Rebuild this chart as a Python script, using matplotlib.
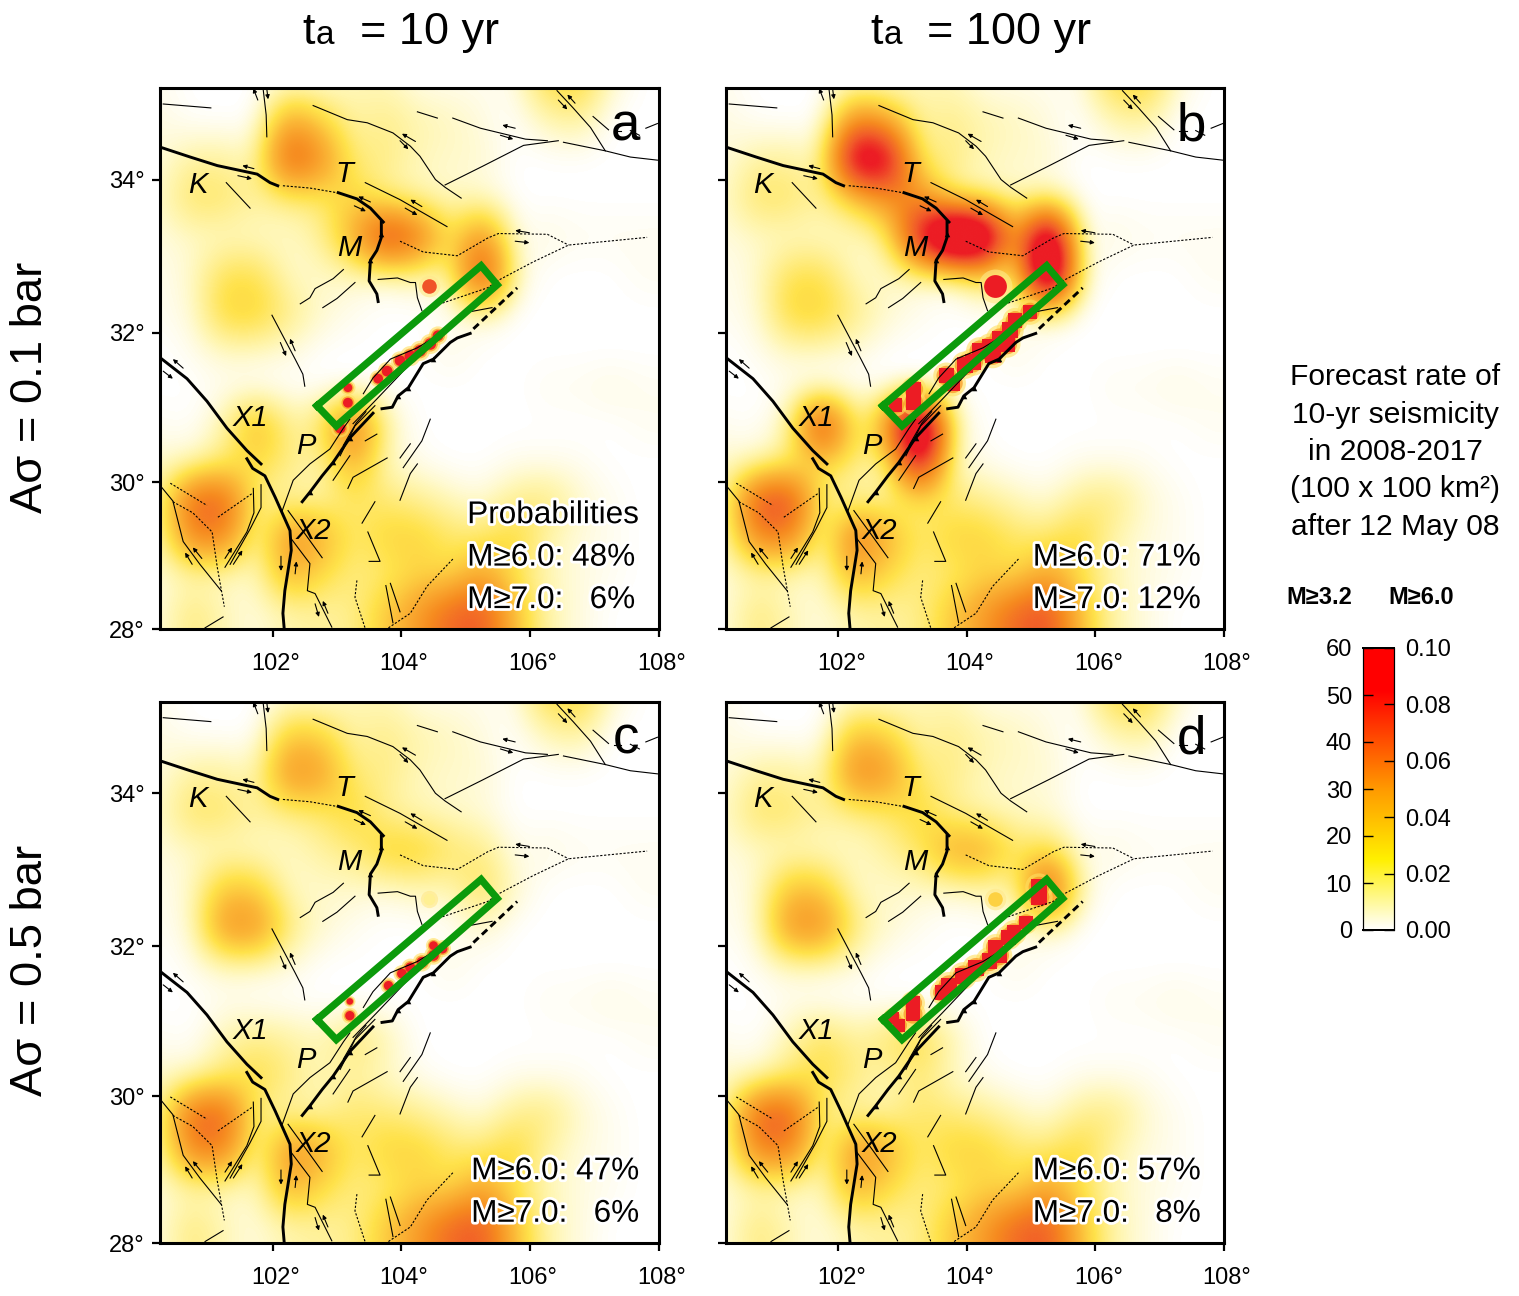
import numpy as np
import matplotlib
matplotlib.use('Agg')
import matplotlib.pyplot as plt
import matplotlib.patheffects as pe
from matplotlib.colors import LinearSegmentedColormap
from matplotlib.transforms import ScaledTranslation

plt.rcParams['font.family'] = ['Liberation Sans', 'DejaVu Sans']

# forecast rate (M>=3.2 per 100x100 km2), 0.5 deg cells
grid_lon = [100.25 + 0.5 * k for k in range(16)]
grid_lat = [35.25 - 0.5 * k for k in range(15)]
rate_a = [
    [1, 0, 0, 0, 1, 1, 4, 4, 1, 1, 1, 1, 13, 15, 3, 0],
    [2, 0, 0, 0, 24, 14, 5, 8, 5, 4, 2, 0, 4, 6, 0, 0],
    [2, 6, 6, 4, 44, 30, 8, 8, 4, 3, 3, 0, 0, 0, 0, 0],
    [3, 11, 10, 6, 7, 9, 15, 6, 4, 3, 2, 0, 0, 0, 0, 0],
    [2, 3, 3, 3, 3, 6, 22, 52, 38, 10, 30, 1, 2, 1, 1, 1],
    [1, 3, 12, 12, 3, 3, 3, 2, 4, 4, 52, 3, 0, 0, 0, 1],
    [1, 2, 15, 15, 8, 3, 1, 0, 0, 0, 3, 0, 0, 0, 0, 0],
    [0, 1, 3, 3, 2, 0, 0, 0, 0, 2, 0, 0, 0, 0, 0, 0],
    [0, 0, 1, 0, 0, 0, 0, 0, 0, 0, 0, 0, 1, 1, 2, 1],
    [1, 0, 5, 22, 6, 10, 38, 5, 0, 0, 0, 0, 0, 0, 0, 1],
    [3, 3, 9, 13, 8, 4, 22, 3, 1, 0, 0, 1, 1, 1, 0, 0],
    [5, 40, 40, 6, 5, 5, 10, 9, 7, 4, 2, 7, 9, 3, 1, 0],
    [4, 32, 32, 3, 30, 22, 9, 15, 15, 10, 9, 15, 5, 2, 1, 0],
    [2, 4, 3, 3, 22, 13, 8, 9, 14, 12, 24, 11, 4, 2, 1, 0],
    [2, 9, 4, 2, 5, 6, 7, 16, 26, 38, 42, 18, 5, 2, 0, 0],
]

# cells that differ from panel a
hot_lon_b = [102.25, 102.75, 102.25, 102.75, 102.25, 102.75, 103.25, 103.25, 103.75, 104.25, 104.75,
             105.25, 105.25, 104.25, 101.75, 102.75, 103.25, 103.25, 100.75, 101.25, 102.25, 105.25]
hot_lat_b = [34.25, 34.25, 34.75, 34.75, 33.75, 33.75, 33.75, 33.25, 33.25, 33.25, 33.25,
             33.25, 32.75, 32.75, 30.75, 30.75, 30.75, 30.25, 29.75, 29.75, 29.25, 28.25]
hot_val_b = [72, 66, 30, 22, 14, 28, 30, 58, 100, 90, 18, 85, 100, 12, 55, 25, 100, 62, 46, 46, 36, 44]

hot_lon_c = [102.25, 102.75, 102.25, 103.25, 103.75, 104.25, 105.25, 105.25, 101.25, 101.25, 101.75, 101.75, 101.75, 103.25, 103.25, 102.75]
hot_lat_c = [34.25, 34.25, 34.75, 33.25, 33.25, 33.25, 33.25, 32.75, 32.25, 32.75, 32.25, 32.75, 30.75, 30.75, 30.25, 30.75]
hot_val_c = [30, 26, 16, 8, 16, 16, 8, 12, 29, 17, 29, 15, 8, 10, 6, 4]

hot_lon_d = [102.25, 102.75, 102.25, 103.25, 103.75, 104.25, 105.25, 105.25, 101.25, 101.25, 101.75, 101.75, 101.75, 103.25, 103.25, 100.75, 101.25]
hot_lat_d = [34.25, 34.25, 34.75, 33.25, 33.25, 33.25, 33.25, 32.75, 32.25, 32.75, 32.25, 32.75, 30.75, 30.75, 30.25, 29.75, 29.75]
hot_val_d = [32, 28, 18, 10, 24, 24, 12, 50, 30, 18, 30, 16, 12, 14, 9, 42, 42]

# single high-rate cells along the rupture
cell_lon_a = [103.17, 103.17, 103.05, 103.64, 103.78, 103.98, 104.14, 104.29, 104.45, 104.57]
cell_lat_a = [31.27, 31.07, 30.73, 31.39, 31.49, 31.63, 31.69, 31.76, 31.85, 31.96]
cell_size_a = [40, 50, 60, 50, 60, 60, 70, 70, 70, 60]
cell_lon_b = [102.89, 103.17, 103.17, 103.68, 103.78, 103.97, 104.09, 104.2, 104.36, 104.4, 104.51, 104.62, 104.67, 104.75, 104.98]
cell_lat_b = [31.04, 31.25, 31.07, 31.43, 31.33, 31.57, 31.61, 31.76, 31.81, 31.71, 31.92, 31.85, 32.03, 32.16, 32.27]
cell_size_b = [90, 110, 110, 120, 120, 130, 130, 130, 130, 130, 130, 130, 130, 110, 110]
cell_lon_c = [103.2, 103.2, 103.8, 104.01, 104.14, 104.32, 104.5, 104.5, 104.64]
cell_lat_c = [31.27, 31.08, 31.48, 31.64, 31.72, 31.79, 31.88, 32.01, 31.97]
cell_size_c = [22, 45, 45, 50, 55, 60, 60, 40, 50]
cell_lon_d = [102.85, 103.16, 103.16, 102.94, 103.72, 103.62, 103.94, 104.14, 104.35, 104.45, 104.5, 104.65, 104.73, 104.92, 105.12, 105.12]
cell_lat_d = [31.05, 31.25, 31.1, 30.95, 31.48, 31.39, 31.61, 31.71, 31.81, 31.99, 31.88, 32.12, 32.18, 32.31, 32.65, 32.78]
cell_size_d = [70, 100, 110, 80, 130, 110, 130, 130, 130, 120, 120, 110, 110, 90, 130, 130]

# small isolated patch north of the rupture, one rate per panel
spot_lon = 104.43
spot_lat = 32.62
spot_rate = [42, 60, 7, 15]
spot_size = [110, 270, 70, 110]

# fault traces, lon / lat
thick_faults = [
    ([100.28, 100.72, 101.14, 101.76, 101.96, 102.08], [34.41, 34.29, 34.18, 34.07, 33.96, 33.92]),
    ([103.02, 103.31, 103.52, 103.72], [33.83, 33.75, 33.63, 33.45]),
    ([103.69, 103.69, 103.62, 103.52, 103.5, 103.62, 103.64], [33.45, 33.25, 33.08, 32.95, 32.68, 32.51, 32.41]),
    ([100.28, 100.67, 100.98, 101.29, 101.6, 101.82], [31.65, 31.39, 31.09, 30.73, 30.43, 30.25]),
    ([101.6, 101.69, 101.88, 102.04, 102.27, 102.29, 102.19, 102.16, 102.18],
     [30.32, 30.19, 30.09, 29.8, 29.35, 29.08, 28.53, 28.22, 28.01]),
    ([102.46, 102.58, 102.77, 102.94, 103.2, 103.56], [29.74, 29.87, 30.09, 30.27, 30.6, 30.93]),
    ([103.7, 103.86, 103.95, 104.11, 104.34, 104.5, 104.76, 104.87, 105.07],
     [30.99, 31.01, 31.16, 31.27, 31.59, 31.65, 31.87, 31.93, 31.99]),
]
thin_faults = [
    ([100.3, 101.04], [34.97, 34.92]),
    ([101.85, 101.9, 101.91], [35.18, 34.83, 34.55]),
    ([102.63, 103.16, 103.47, 103.87, 104.14, 104.29, 104.53, 104.68, 104.93],
     [34.95, 34.77, 34.73, 34.6, 34.43, 34.3, 34.0, 33.9, 33.76]),
    ([101.28, 101.65], [33.96, 33.63]),
    ([103.44, 103.98, 104.71], [33.96, 33.74, 33.39]),
    ([104.68, 105.26, 105.9, 106.44], [33.93, 34.17, 34.44, 34.5]),
    ([104.8, 105.23, 105.93, 106.27], [34.79, 34.66, 34.52, 34.5]),
    ([104.25, 104.56], [34.87, 34.79]),
    ([106.52, 107.17, 107.56, 107.98], [34.48, 34.37, 34.29, 34.25]),
    ([106.42, 106.67, 106.94, 107.17], [35.14, 34.92, 34.67, 34.37]),
    ([106.98, 107.22], [34.81, 34.64]),
    ([107.3, 107.42], [34.62, 34.62]),
    ([107.56, 107.7], [34.63, 34.57]),
    ([107.8, 107.98], [34.66, 34.72]),
    ([103.64, 103.94, 104.14, 104.22, 104.25, 104.32], [32.7, 32.72, 32.66, 32.66, 32.46, 32.29]),
    ([102.43, 102.58, 102.66, 102.94, 103.1], [32.38, 32.46, 32.58, 32.71, 32.83]),
    ([102.78, 103.0, 103.28], [32.33, 32.45, 32.66]),
    ([101.99, 102.35, 102.47, 102.5], [32.23, 31.65, 31.45, 31.29]),
    ([100.28, 100.45, 100.61, 100.87, 101.2], [29.93, 29.75, 29.2, 28.89, 28.53]),
    ([101.7, 101.71, 101.6, 101.26], [29.92, 29.59, 29.33, 28.85]),
    ([101.82, 101.82, 101.65, 101.34], [29.97, 29.66, 29.37, 28.89]),
    ([102.15, 102.32, 102.58, 102.89, 103.1, 103.2], [29.62, 30.03, 30.25, 30.45, 30.73, 30.85]),
    ([103.25, 103.62, 104.03, 104.34, 104.76], [30.79, 31.12, 31.49, 31.76, 32.07]),
    ([103.41, 103.56, 103.83, 104.25, 104.56, 105.03, 105.41], [31.19, 31.4, 31.65, 31.8, 31.96, 32.27, 32.33]),
    ([102.24, 102.54, 102.77], [29.62, 29.26, 28.98]),
    ([102.27, 102.58, 102.54, 102.66, 102.92], [29.26, 28.9, 28.53, 28.49, 28.03]),
    ([100.95, 101.23], [28.02, 28.17]),
    ([103.76, 103.87], [28.6, 28.09]),
    ([103.83, 103.98], [28.63, 28.24]),
    ([103.17, 103.25, 103.78], [29.92, 30.07, 30.33]),
    ([102.94, 103.2], [30.03, 30.36]),
    ([103.39, 103.59], [29.45, 29.74]),
    ([103.48, 103.67, 103.5], [29.33, 28.93, 28.93]),
    ([103.44, 103.62], [30.56, 30.65]),
    ([103.98, 104.14], [30.33, 30.52]),
    ([104.03, 104.32, 104.45], [30.2, 30.56, 30.85]),
    ([103.98, 104.14, 104.25], [29.76, 30.12, 30.25]),
    ([103.1, 103.3, 103.45], [30.5, 30.8, 30.95]),
    ([103.05, 103.28, 103.59], [30.36, 30.76, 31.03]),
]
dotted_faults = [
    ([102.16, 102.58, 103.0], [33.92, 33.89, 33.83]),
    ([100.41, 100.98], [29.99, 29.69]),
    ([100.45, 100.76, 101.06, 101.14, 101.25], [29.74, 29.59, 29.33, 28.85, 28.31]),
    ([101.15, 101.68], [29.53, 29.85]),
    ([104.64, 105.34, 105.51, 106.05, 106.6, 107.09, 107.82], [32.39, 32.59, 32.69, 32.93, 33.15, 33.19, 33.25]),
    ([103.98, 104.34, 104.87, 105.34, 105.51, 106.27, 106.6], [33.2, 33.06, 33.01, 33.24, 33.3, 33.29, 33.15]),
    ([103.31, 103.28, 103.44], [28.67, 28.44, 28.01]),
    ([103.8, 104.14, 104.4, 104.81], [28.02, 28.22, 28.59, 28.97]),
]
dashed_lon = [105.12, 105.8]
dashed_lat = [32.05, 32.59]

# half arrows (start lon, start lat, end lon, end lat)
arrows = [
    (101.71, 34.14, 101.53, 34.18), (101.46, 34.05, 101.68, 34.01),
    (103.52, 33.71, 103.33, 33.78), (103.27, 33.66, 103.45, 33.59),
    (104.22, 34.49, 104.01, 34.59), (103.98, 34.5, 104.11, 34.39),
    (105.77, 34.66, 105.57, 34.7), (105.54, 34.57, 105.74, 34.52),
    (106.7, 34.98, 106.58, 35.09), (106.44, 35.02, 106.58, 34.9),
    (104.32, 33.65, 104.14, 33.74), (104.06, 33.63, 104.25, 33.54),
    (105.99, 33.31, 105.77, 33.34), (105.77, 33.2, 105.99, 33.18),
    (102.12, 31.87, 102.21, 31.69), (102.35, 31.76, 102.27, 31.92),
    (100.61, 31.53, 100.45, 31.65), (100.3, 31.49, 100.45, 31.39),
    (100.75, 28.89, 100.64, 29.05), (100.9, 28.97, 100.76, 29.12),
    (101.26, 28.97, 101.37, 29.12), (101.39, 28.89, 101.53, 29.08),
    (102.13, 29.0, 102.13, 28.8), (102.35, 28.76, 102.37, 28.93),
    (102.66, 28.35, 102.72, 28.17), (102.86, 28.22, 102.78, 28.39),
    (101.77, 35.02, 101.7, 35.17), (101.91, 35.16, 101.93, 35.03),
]
thrust_lon = [102.58, 102.94, 103.2, 103.95, 104.11, 104.5, 103.69, 103.52]
thrust_lat = [29.87, 30.27, 30.6, 31.16, 31.27, 31.65, 33.3, 32.95]

box_lon = [102.69, 105.24, 105.49, 102.99, 102.69]
box_lat = [31.03, 32.88, 32.63, 30.76, 31.03]

place_names = ['K', 'T', 'M', 'X1', 'P', 'X2']
place_lon = [100.83, 103.11, 103.19, 101.65, 102.52, 102.63]
place_lat = [33.93, 34.07, 33.11, 30.87, 30.49, 29.35]

panel_letters = ['a', 'b', 'c', 'd']
prob_texts = [
    ['Probabilities', 'M≥6.0: 48%', 'M≥7.0:   6%'],
    ['M≥6.0: 71%', 'M≥7.0: 12%'],
    ['M≥6.0: 47%', 'M≥7.0:   6%'],
    ['M≥6.0: 57%', 'M≥7.0:   8%'],
]
xticks = [102, 104, 106, 108]
yticks = [28, 30, 32, 34]
scale_left = [0, 10, 20, 30, 40, 50, 60]
scale_right = [0.00, 0.02, 0.04, 0.06, 0.08, 0.10]
side_lines = ['Forecast rate of', '10-yr seismicity', 'in 2008-2017', '(100 x 100 km²)', 'after 12 May 08']

W, H = 1519, 1296
rate_cmap = LinearSegmentedColormap.from_list(
    'rate', [(0, '#ffffff'), (0.07, '#fff7b8'), (0.2, '#ffe24a'), (0.33, '#fbb636'), (0.5, '#f68a1f'),
             (0.68, '#f15a29'), (0.85, '#ec1c24'), (1, '#ec1c24')])
bar_cmap = LinearSegmentedColormap.from_list(
    'bar', [(0, '#ffffff'), (0.25, '#fff000'), (0.5, '#ff9a00'), (0.85, '#ff0000'), (1, '#ff0000')])


def merc(lat):
    lat = np.clip(lat, 1, 80)
    return np.degrees(np.log(np.tan(np.pi / 4 + np.radians(lat) / 2)))


def inv_merc(y):
    return np.degrees(2 * np.arctan(np.exp(np.radians(y))) - np.pi / 2)


def axes_px(x0, y0, x1, y1):
    return fig.add_axes([x0 / W, 1 - y1 / H, (x1 - x0) / W, (y1 - y0) / H])


def panel_field(hot_lon, hot_lat, hot_val):
    field = np.array(rate_a, dtype=float)
    for lo, la, v in zip(hot_lon, hot_lat, hot_val):
        field[grid_lat.index(la), grid_lon.index(lo)] = v
    return field


fig = plt.figure(figsize=(W / 100, H / 100), dpi=100)

boxes = [(160, 88.3, 658.7, 629.3), (726, 88.3, 1224, 629.3), (160, 702, 658.7, 1243), (726, 702, 1224, 1243)]
hots = [([], [], []), (hot_lon_b, hot_lat_b, hot_val_b), (hot_lon_c, hot_lat_c, hot_val_c), (hot_lon_d, hot_lat_d, hot_val_d)]
cells = [(cell_lon_a, cell_lat_a, cell_size_a), (cell_lon_b, cell_lat_b, cell_size_b),
         (cell_lon_c, cell_lat_c, cell_size_c), (cell_lon_d, cell_lat_d, cell_size_d)]
cell_marker = ['o', 's', 'o', 's']

for n in range(4):
    ax = axes_px(*boxes[n])
    ax.set_yscale('function', functions=(merc, inv_merc))
    ax.imshow(panel_field(*hots[n]), cmap=rate_cmap, vmin=0, vmax=60, interpolation='bicubic',
              extent=[100, 108, 28, 35.5], aspect='auto', zorder=1)
    sizes = np.array(cells[n][2])
    ax.scatter(cells[n][0], cells[n][1], s=sizes * 3, c='#ffe060', alpha=0.6, lw=0, zorder=2)
    ax.scatter(cells[n][0], cells[n][1], s=sizes * 1.7, c='#f8941d', alpha=0.7, lw=0, zorder=2)
    ax.scatter(cells[n][0], cells[n][1], s=sizes, c='#ec1c24', marker=cell_marker[n], lw=0, zorder=2)
    ax.scatter([spot_lon], [spot_lat], s=spot_size[n] * 2.2, c='#ffe88a', alpha=0.6, lw=0, zorder=2)
    ax.scatter([spot_lon], [spot_lat], s=spot_size[n], c=[spot_rate[n]], cmap=rate_cmap, vmin=0, vmax=60, lw=0, zorder=2)

    for lo, la in thin_faults:
        ax.plot(lo, la, color='k', lw=0.8, zorder=3)
    for lo, la in dotted_faults:
        ax.plot(lo, la, color='k', lw=0.8, ls=(0, (2, 1.5)), zorder=3)
    for lo, la in thick_faults:
        ax.plot(lo, la, color='k', lw=2.1, zorder=3)
    ax.plot(dashed_lon, dashed_lat, color='k', lw=2.1, ls=(0, (2.5, 1.5)), zorder=3)
    ax.scatter(thrust_lon, thrust_lat, marker='^', s=16, c='k', lw=0, zorder=3)
    for x0, y0, x1, y1 in arrows:
        ax.annotate('', xy=(x1, y1), xytext=(x0, y0), zorder=3,
                    arrowprops=dict(arrowstyle='-|>', lw=0.8, color='k', mutation_scale=6, shrinkA=0, shrinkB=0))
    ax.plot(box_lon, box_lat, color='#0b9a0b', lw=5.2, solid_joinstyle='miter', zorder=4)

    for name, lo, la in zip(place_names, place_lon, place_lat):
        ax.text(lo, la, name, fontsize=21, style='italic', ha='center', va='center', zorder=5)

    ax.text(0.934, 0.93, panel_letters[n], transform=ax.transAxes, fontsize=38, ha='center', va='center', zorder=5)

    ax.set_xlim(100.25, 108)
    ax.set_ylim(28, 35.17)
    ax.set_xticks(xticks)
    ax.set_xticklabels([f'{t}°' for t in xticks], fontsize=17)
    ax.set_yticks(yticks)
    ax.minorticks_off()
    if n % 2 == 0:
        ax.set_yticklabels([f'{t}°' for t in yticks], fontsize=17)
    else:
        ax.set_yticklabels([])
    ax.tick_params(axis='x', length=6, width=1.6, pad=11)
    ax.tick_params(axis='y', length=6, width=1.6, pad=5)
    for lab in ax.get_xticklabels():
        lab.set_transform(lab.get_transform() + ScaledTranslation(2 / 72, 0, fig.dpi_scale_trans))
    for s in ax.spines.values():
        s.set_linewidth(2.2)

    lines = prob_texts[n]
    x_text = 0.624 if n == 2 else 0.616
    for k, line in enumerate(lines[::-1]):
        t = ax.text(x_text, 0.054 + k * 0.0785, line, transform=ax.transAxes, fontsize=22.7, ha='left', va='center', zorder=6)
        t.set_path_effects([pe.withStroke(linewidth=4, foreground='white')])

# column headings: t with a small a, then the value
for x_t, x_a, x_eq, label in [(302, 316, 360, '= 10 yr'), (870, 884, 927, '= 100 yr')]:
    fig.text(x_t / W, 1 - 44 / H, 't', fontsize=32.5, ha='left', va='baseline')
    fig.text(x_a / W, 1 - 44 / H, 'a', fontsize=24, ha='left', va='baseline')
    fig.text(x_eq / W, 1 - 44 / H, label, fontsize=32.5, ha='left', va='baseline')
fig.text(31 / W, 1 - 387 / H, 'Aσ = 0.1 bar', fontsize=32.7, rotation=90, ha='center', va='center')
fig.text(31 / W, 1 - 970 / H, 'Aσ = 0.5 bar', fontsize=32.7, rotation=90, ha='center', va='center')

for k, line in enumerate(side_lines):
    fig.text(1395 / W, 1 - (377 + k * 37.5) / H, line, fontsize=21.6, ha='center', va='center')
fig.text(1319 / W, 1 - 598 / H, 'M≥3.2', fontsize=17, fontweight='bold', ha='center', va='center')
fig.text(1421 / W, 1 - 598 / H, 'M≥6.0', fontsize=17, fontweight='bold', ha='center', va='center')

# colour scale with its two axes
cax = axes_px(1363, 648, 1394, 930)
cax.imshow(np.linspace(1, 0, 256).reshape(-1, 1), cmap=bar_cmap, vmin=0, vmax=1, aspect='auto', extent=[0, 1, 0, 60])
cax.set_xticks([])
cax.set_yticks(scale_left)
cax.set_yticklabels([str(v) for v in scale_left], fontsize=17)
cax.tick_params(axis='y', direction='in', length=7, width=1, pad=8)
cax2 = cax.twinx()
cax2.set_ylim(0, 0.10)
cax2.set_yticks(scale_right)
cax2.set_yticklabels([f'{v:.2f}' for v in scale_right], fontsize=17)
cax2.tick_params(axis='y', direction='in', length=7, width=1, pad=8)
for a in (cax, cax2):
    a.spines['left'].set_linewidth(0.8)
    a.spines['right'].set_linewidth(0.8)
    a.spines['top'].set_linewidth(1.4)
    a.spines['bottom'].set_linewidth(1.4)

fig.savefig('out.png', dpi=100)
